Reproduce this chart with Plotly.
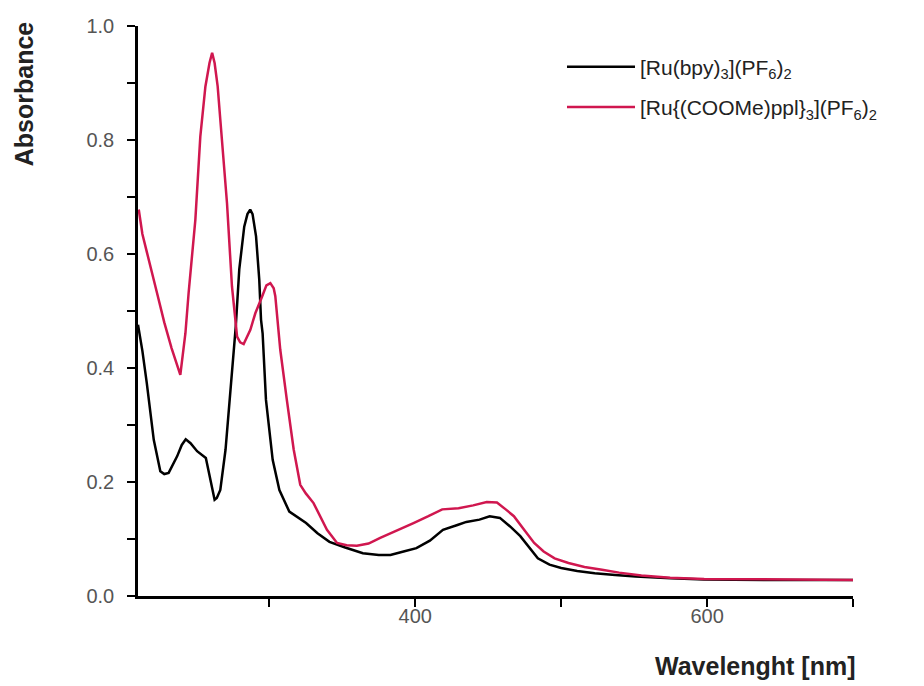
import plotly.graph_objects as go

# Wavelength (nm) and absorbance
bpy_nm = [210, 213, 216, 220.8, 225.3, 228, 231, 236.8, 240, 242.7, 246, 250.5, 256.5,
          260.7, 262.5, 264, 266.4, 270, 274.8, 277, 279.4, 282.8, 285, 286.9, 288.5,
          290.9, 293.1, 294.3, 295.4, 297.7, 302.3, 306.9, 313.7, 325.2, 333, 341.2,
          352, 364.1, 375, 383, 392, 400.8, 410, 419, 429.4, 435, 444, 451, 458, 465,
          472, 478, 484, 492, 500, 511, 523, 537, 551, 575, 598, 650, 700]
bpy_abs = [0.476, 0.43, 0.374, 0.274, 0.219, 0.214, 0.216, 0.245, 0.265, 0.275, 0.268,
           0.254, 0.242, 0.192, 0.169, 0.172, 0.186, 0.257, 0.403, 0.473, 0.573, 0.648,
           0.670, 0.678, 0.670, 0.631, 0.555, 0.485, 0.461, 0.344, 0.239, 0.186, 0.148,
           0.128, 0.110, 0.095, 0.085, 0.075, 0.072, 0.072, 0.078, 0.084, 0.097, 0.116,
           0.125, 0.130, 0.134, 0.140, 0.137, 0.122, 0.105, 0.085, 0.066, 0.055, 0.049,
           0.044, 0.040, 0.037, 0.034, 0.031, 0.029, 0.028, 0.028]

ppl_nm = [210.5, 213, 216.2, 220, 223, 228, 233, 239, 242.5, 244.7, 247, 249.3, 252.7,
          256.2, 259, 260.8, 262.5, 264.6, 266.4, 271, 274.4, 277.9, 280, 282.4, 287,
          290.4, 295, 298, 300.7, 303, 304.1, 307.5, 312, 316.7, 321.2, 325, 330.3, 335,
          339.5, 346.4, 353, 360, 368, 376, 388, 398.8, 409, 418.5, 429.7, 439.7, 449,
          456, 462, 467.6, 475, 481.5, 488, 495.5, 505, 516, 528, 539.7, 555, 574.7,
          598, 621, 660, 700]
ppl_abs = [0.678, 0.635, 0.602, 0.560, 0.532, 0.480, 0.435, 0.388, 0.461, 0.532, 0.60,
           0.660, 0.806, 0.894, 0.935, 0.953, 0.935, 0.894, 0.836, 0.689, 0.543, 0.455,
           0.445, 0.442, 0.467, 0.496, 0.525, 0.545, 0.549, 0.54, 0.526, 0.432, 0.344,
           0.257, 0.195, 0.180, 0.163, 0.140, 0.116, 0.093, 0.089, 0.088, 0.092, 0.102,
           0.115, 0.128, 0.140, 0.152, 0.154, 0.159, 0.165, 0.164, 0.152, 0.140, 0.115,
           0.093, 0.078, 0.066, 0.058, 0.051, 0.046, 0.041, 0.036, 0.032, 0.030, 0.030,
           0.029, 0.028]

x_tickvals = [300, 400, 500, 600, 700]
x_ticktext = ["", "400", "", "600", ""]
y_tickvals = [0.0, 0.1, 0.2, 0.3, 0.4, 0.5, 0.6, 0.7, 0.8, 0.9, 1.0]
y_ticktext = ["0.0", "", "0.2", "", "0.4", "", "0.6", "", "0.8", "", "1.0"]

name_bpy = "[Ru(bpy)<sub>3</sub>](PF<sub>6</sub>)<sub>2</sub>"
name_ppl = "[Ru{(COOMe)ppl}<sub>3</sub>](PF<sub>6</sub>)<sub>2</sub>"

FONT = "Liberation Sans, Arial, sans-serif"
RED = "#d0174f"
TICKCOL = "#555555"

fig = go.Figure()
fig.add_trace(go.Scatter(x=bpy_nm, y=bpy_abs, mode="lines", name=name_bpy,
                         legendgroup="a", line=dict(color="black", width=2.5)))
fig.add_trace(go.Scatter(x=ppl_nm, y=ppl_abs, mode="lines", name=name_ppl,
                         legendgroup="b", line=dict(color=RED, width=2.5)))

axis_common = dict(showgrid=False, zeroline=False, showline=True, linecolor="black",
                   linewidth=2.5, ticks="outside", ticklen=8, tickwidth=2,
                   tickcolor="black", automargin=False,
                   tickfont=dict(size=20, color=TICKCOL))

fig.update_layout(
    width=916, height=678,
    margin=dict(l=130, r=71, t=18, b=90),
    paper_bgcolor="white", plot_bgcolor="white",
    font=dict(family=FONT, color=TICKCOL, size=20),
    legend=dict(x=0.593, y=0.964, xanchor="left", yanchor="top",
                bgcolor="rgba(0,0,0,0)", font=dict(size=21, color="#222222"),
                tracegroupgap=10, itemwidth=68, traceorder="grouped"),
    xaxis=dict(range=[210, 700], tickvals=x_tickvals, ticktext=x_ticktext,
               ticklabelstandoff=-8, **axis_common),
    yaxis=dict(range=[0, 1.0], tickvals=y_tickvals, ticktext=y_ticktext,
               ticklabelstandoff=9, **axis_common),
    annotations=[
        dict(text="<b>Absorbance</b>", xref="paper", yref="paper",
             x=-0.16, y=1.012, xanchor="center", yanchor="top", textangle=-90,
             showarrow=False, font=dict(size=25, color="#222222")),
        dict(text="<b>Wavelenght [nm]</b>", xref="paper", yref="paper",
             x=1.006, y=-0.123, xanchor="right", yanchor="middle",
             showarrow=False, font=dict(size=25, color="#222222")),
    ],
)

fig.write_html("out.html")
